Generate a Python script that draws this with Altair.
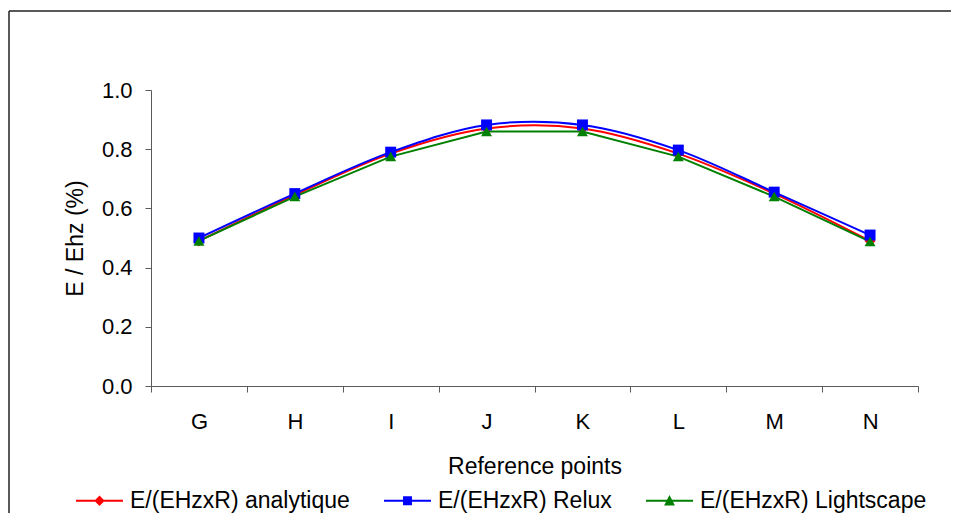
import altair as alt
import pandas as pd

points = ["G", "H", "I", "J", "K", "L", "M", "N"]
analytique = [0.49, 0.645, 0.785, 0.87, 0.87, 0.785, 0.65, 0.49]
relux = [0.50, 0.65, 0.79, 0.882, 0.882, 0.797, 0.655, 0.51]
lightscape = [0.49, 0.64, 0.775, 0.86, 0.86, 0.775, 0.64, 0.488]

series_names = ["E/(EHzxR) analytique", "E/(EHzxR) Relux", "E/(EHzxR) Lightscape"]
series_colors = ["#FF0000", "#0000FF", "#008000"]
series_shapes = ["diamond", "square", "triangle-up"]
# legend symbols: a short line with the marker on it
legend_shapes = [
    "M-1,-0.045H1V0.045H-1Z M-0.22,0L0,-0.22L0.22,0L0,0.22Z",
    "M-1,-0.045H1V0.045H-1Z M-0.19,-0.19H0.19V0.19H-0.19Z",
    "M-1,-0.045H1V0.045H-1Z M-0.23,0.2L0,-0.24L0.23,0.2Z",
]

rows = []
for name, vals in zip(series_names, [analytique, relux, lightscape]):
    for p, v in zip(points, vals):
        rows.append({"point": p, "value": v, "series": name})
df = pd.DataFrame(rows)

FONT = "Liberation Sans"
AXC = "#5a5a5a"

x_enc = alt.X(
    "point:N",
    sort=points,
    scale=alt.Scale(type="band", paddingInner=0, paddingOuter=0),
    axis=alt.Axis(
        title="Reference points",
        labelAngle=0,
        tickBand="extent",
        tickSize=6,
        labelPadding=19,
        labelFontSize=22,
        labelFont=FONT,
        labelColor="black",
        domainColor=AXC,
        tickColor=AXC,
        titleFont=FONT,
        titleFontSize=23,
        titleFontWeight="normal",
        titleColor="black",
        titleX=383.5,
        titleY=80,
        titleBaseline="middle",
        grid=False,
    ),
)
y_enc = alt.Y(
    "value:Q",
    scale=alt.Scale(domain=[0, 1], nice=False),
    axis=alt.Axis(
        title="E / Ehz (%)",
        values=[0, 0.2, 0.4, 0.6, 0.8, 1.0],
        format=".1f",
        tickSize=6,
        labelPadding=13,
        labelFontSize=22,
        labelFont=FONT,
        labelColor="black",
        domainColor=AXC,
        tickColor=AXC,
        titleFont=FONT,
        titleFontSize=23,
        titleFontWeight="normal",
        titleColor="black",
        titleX=-76,
        titleY=148,
        titleAngle=270,
        titleAlign="center",
        titleBaseline="middle",
        grid=False,
    ),
)

color_nolegend = alt.Color(
    "series:N", scale=alt.Scale(domain=series_names, range=series_colors), legend=None
)

base = alt.Chart(df)

smooth_lines = base.transform_filter(
    alt.FieldOneOfPredicate(field="series", oneOf=series_names[:2])
).mark_line(interpolate="cardinal", strokeWidth=2).encode(
    x=x_enc, y=y_enc, color=color_nolegend, detail="series:N"
)
straight_line = base.transform_filter(
    alt.FieldEqualPredicate(field="series", equal=series_names[2])
).mark_line(interpolate="linear", strokeWidth=2).encode(
    x=x_enc, y=y_enc, color=color_nolegend
)
markers = base.mark_point(filled=True, opacity=1, size=120, strokeWidth=0).encode(
    x=x_enc,
    y=y_enc,
    color=color_nolegend,
    shape=alt.Shape(
        "series:N", scale=alt.Scale(domain=series_names, range=series_shapes), legend=None
    ),
)

legend_props = dict(
    title=None,
    orient="none",
    legendX=-75,
    legendY=387,
    direction="horizontal",
    columns=3,
    columnPadding=34,
    symbolSize=2209,
    symbolStrokeWidth=0,
    labelOffset=7,
    labelFontSize=23,
    labelFont=FONT,
    labelColor="black",
    labelLimit=400,
)

legend_layer = base.transform_filter("false").mark_point(
    filled=True, opacity=1, strokeWidth=0
).encode(
    x=x_enc,
    y=y_enc,
    color=alt.Color(
        "series:N",
        scale=alt.Scale(domain=series_names, range=series_colors),
        legend=alt.Legend(**legend_props),
    ),
    shape=alt.Shape(
        "series:N",
        scale=alt.Scale(domain=series_names, range=legend_shapes),
        legend=alt.Legend(**legend_props),
    ),
)

frame = alt.Chart(alt.Data(values=[{"a": 1}]))
top_border = frame.mark_rule(color="#222222", strokeWidth=1.5).encode(
    x=alt.value(-142), x2=alt.value(800), y=alt.value(-79)
)
left_border = frame.mark_rule(color="#222222", strokeWidth=1.5).encode(
    x=alt.value(-142), y=alt.value(-79), y2=alt.value(430)
)

chart = (
    alt.layer(top_border, left_border, smooth_lines, straight_line, markers, legend_layer)
    .resolve_scale(color="independent", shape="independent")
    .properties(
        width=767,
        height=296,
        autosize=alt.AutoSizeParams(type="none"),
        padding={"left": 143, "top": 82, "right": 33, "bottom": 127},
        view=alt.ViewBackground(strokeWidth=0, stroke="transparent", fill="white"),
    )
    .configure_view(strokeWidth=0, stroke="transparent")
    .configure_axis(grid=False)
    .configure(font=FONT)
)

chart.save("out.html", embed_options={"renderer": "svg", "actions": False})
